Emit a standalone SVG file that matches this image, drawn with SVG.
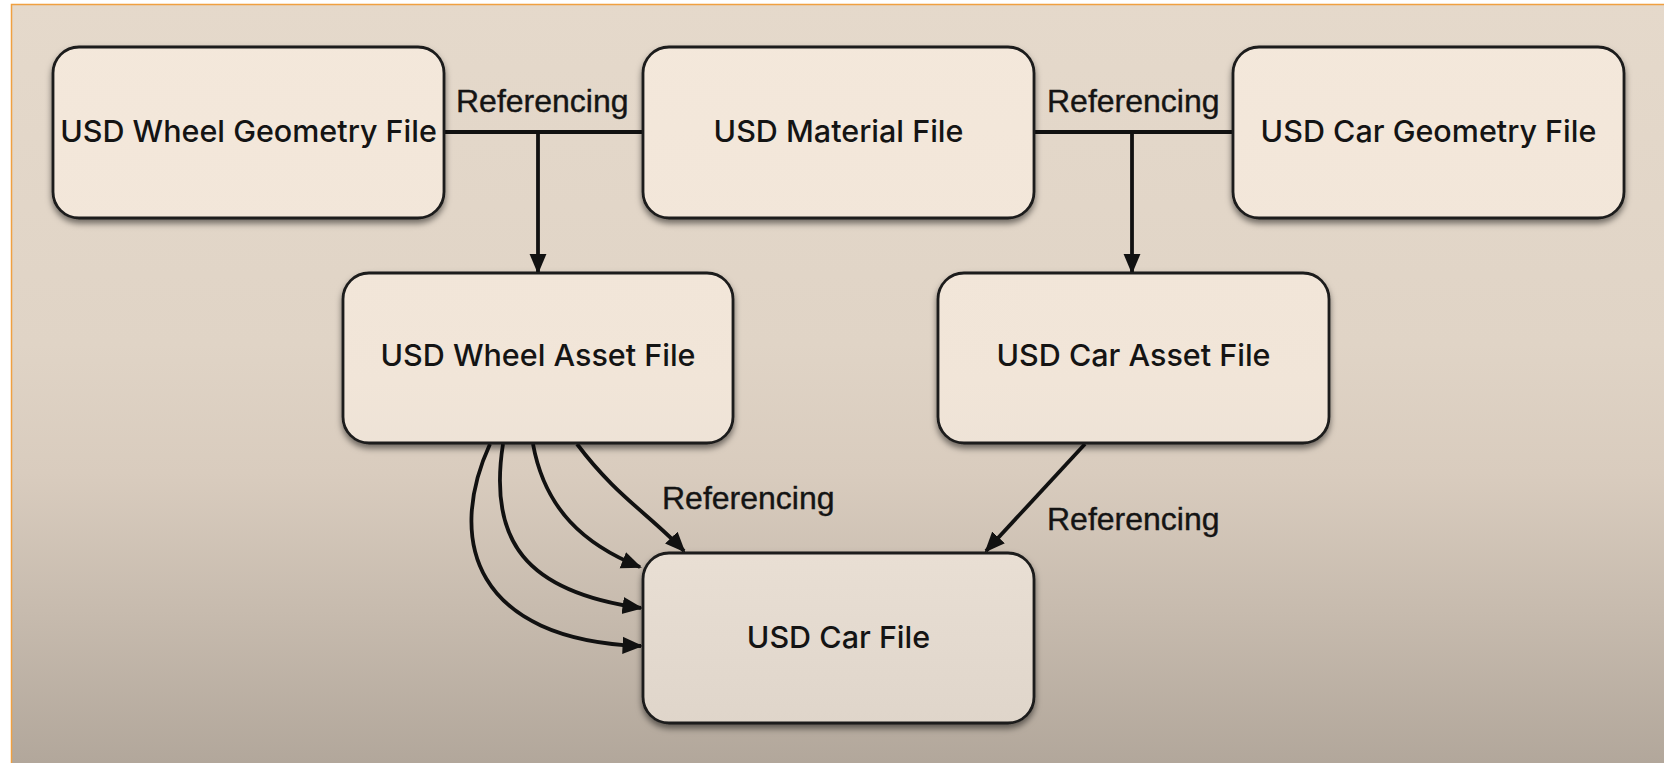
<svg xmlns="http://www.w3.org/2000/svg" width="1664" height="763" viewBox="0 0 1664 763">
  <defs>
    <linearGradient id="bg" x1="0" y1="0" x2="0" y2="763" gradientUnits="userSpaceOnUse">
      <stop offset="0" stop-color="#e5d9cb"/>
      <stop offset="0.45" stop-color="#e0d4c6"/>
      <stop offset="0.62" stop-color="#d9ccbe"/>
      <stop offset="0.8" stop-color="#c7bbae"/>
      <stop offset="1" stop-color="#b2a79b"/>
    </linearGradient>
    <linearGradient id="boxFill" x1="0" y1="0" x2="0" y2="763" gradientUnits="userSpaceOnUse">
      <stop offset="0" stop-color="#f4e8db"/>
      <stop offset="0.5" stop-color="#f1e5d8"/>
      <stop offset="0.72" stop-color="#e9dfd4"/>
      <stop offset="1" stop-color="#ddd3c8"/>
    </linearGradient>
    <filter id="shadow" x="-10%" y="-10%" width="120%" height="130%">
      <feDropShadow dx="0" dy="4" stdDeviation="3" flood-color="#000" flood-opacity="0.5"/>
    </filter>
    <marker id="arrow" viewBox="0 0 10 10" refX="9" refY="5" markerWidth="5.4" markerHeight="5.4" orient="auto" markerUnits="strokeWidth">
      <path d="M0,0.8 L10,5 L0,9.2 z" fill="#111"/>
    </marker>
    <style>
      .node rect { fill: url(#boxFill); stroke: #1a1a1a; stroke-width: 2.8; filter: url(#shadow); }
      .node text { font-family: Inter, "Open Sans", sans-serif; font-size: 30.5px; font-weight: 450; fill: #141414; text-anchor: middle; }
      .edge { fill: none; stroke: #111; stroke-width: 3.8; }
      .label { font-family: "Liberation Sans", Arial, sans-serif; font-size: 32px; fill: #141414; stroke: #141414; stroke-width: 0.4; }
    </style>
  </defs>

  <!-- page backdrop and frame -->
  <rect x="0" y="0" width="1664" height="763" fill="#ffffff"/>
  <rect x="11" y="4" width="1653" height="759" fill="url(#bg)"/>
  <path d="M11.5,763 V4.5 H1664" fill="none" stroke="#f0a040" stroke-width="1.5"/>

  <!-- connectors -->
  <g id="connectors">
    <path class="edge" d="M444,132 H643"/>
    <path class="edge" d="M538,132 V272" marker-end="url(#arrow)"/>
    <path class="edge" d="M1034,132 H1233"/>
    <path class="edge" d="M1132,132 V272" marker-end="url(#arrow)"/>
    <path class="edge" d="M490,444 C446,540 474,640 641,646" marker-end="url(#arrow)"/>
    <path class="edge" d="M503,444 C488,540 525,592 641,608" marker-end="url(#arrow)"/>
    <path class="edge" d="M533,444 C545,510 585,545 640,567" marker-end="url(#arrow)"/>
    <path class="edge" d="M577,444 C615,495 650,515 684,551" marker-end="url(#arrow)"/>
    <path class="edge" d="M1085,444 L986,551" marker-end="url(#arrow)"/>
    <text class="label" x="456" y="112">Referencing</text>
    <text class="label" x="1047" y="112">Referencing</text>
    <text class="label" x="662" y="509">Referencing</text>
    <text class="label" x="1047" y="530">Referencing</text>
  </g>

  <!-- nodes -->
  <g id="wheel-geometry" class="node">
    <rect x="53" y="47" width="391" height="171" rx="26"/>
    <text x="248.5" y="142">USD Wheel Geometry File</text>
  </g>
  <g id="material" class="node">
    <rect x="643" y="47" width="391" height="171" rx="26"/>
    <text x="838.5" y="142">USD Material File</text>
  </g>
  <g id="car-geometry" class="node">
    <rect x="1233" y="47" width="391" height="171" rx="26"/>
    <text x="1428.5" y="142">USD Car Geometry File</text>
  </g>
  <g id="wheel-asset" class="node">
    <rect x="343" y="273" width="390" height="170" rx="26"/>
    <text x="538" y="366">USD Wheel Asset File</text>
  </g>
  <g id="car-asset" class="node">
    <rect x="938" y="273" width="391" height="170" rx="26"/>
    <text x="1133.5" y="366">USD Car Asset File</text>
  </g>
  <g id="car-file" class="node">
    <rect x="643" y="553" width="391" height="170" rx="26"/>
    <text x="838.5" y="648">USD Car File</text>
  </g>
</svg>
